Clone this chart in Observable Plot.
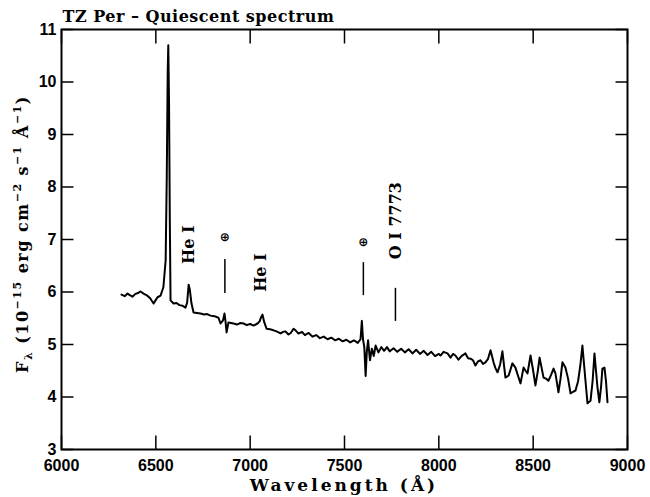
<!DOCTYPE html>
<html><head><meta charset="utf-8">
<script src="https://cdn.jsdelivr.net/npm/d3@7"></script>
<script src="https://cdn.jsdelivr.net/npm/@observablehq/plot@0.6"></script>
<style>body{margin:0;background:#fff}</style>
</head><body><div id="chart"></div>
<script>
const wavelength = [6318,6335,6350,6362,6376,6390,6405,6419,6435,6455,6470,6488,6500,6509,6525,6540,6552,6558,6563,6566,6570,6574,6578,6594,6610,6625,6641,6657,6666,6674,6680,6689,6700,6718,6737,6755,6772,6790,6810,6832,6843,6856,6864,6870,6875,6885,6898,6912,6930,6948,6965,6982,7000,7018,7039,7050,7058,7065,7075,7087,7105,7124,7140,7161,7175,7187,7203,7215,7230,7243,7256,7275,7290,7310,7330,7350,7370,7390,7410,7430,7450,7470,7490,7510,7530,7550,7570,7585,7592,7598,7605,7612,7618,7625,7635,7645,7655,7665,7680,7695,7710,7725,7740,7760,7780,7800,7820,7840,7860,7880,7900,7920,7940,7960,7980,8000,8009,8025,8046,8062,8075,8088,8104,8120,8141,8155,8168,8181,8194,8208,8221,8234,8247,8260,8274,8290,8300,8311,8325,8337,8353,8370,8390,8406,8420,8433,8449,8460,8470,8486,8500,8512,8524,8534,8545,8555,8568,8581,8595,8608,8618,8634,8645,8655,8671,8685,8698,8712,8724,8738,8750,8761,8775,8788,8804,8815,8825,8833,8841,8851,8860,8867,8878,8886,8894];
const flux = [5.95,5.92,5.97,5.94,5.91,5.96,5.98,6.01,5.97,5.93,5.88,5.78,5.85,5.90,5.93,6.09,6.6,8.2,10.2,10.7,9.6,7.4,5.84,5.78,5.79,5.75,5.74,5.70,5.80,6.14,6.05,5.78,5.61,5.60,5.59,5.57,5.58,5.55,5.54,5.51,5.40,5.46,5.59,5.42,5.23,5.42,5.41,5.40,5.38,5.41,5.40,5.37,5.39,5.36,5.40,5.44,5.52,5.57,5.42,5.30,5.29,5.27,5.25,5.21,5.24,5.25,5.19,5.22,5.30,5.26,5.21,5.24,5.18,5.22,5.15,5.18,5.12,5.15,5.10,5.13,5.08,5.11,5.06,5.09,5.04,5.08,5.03,5.10,5.45,5.10,4.95,4.40,4.85,5.08,4.70,4.92,4.78,4.98,4.85,4.95,4.88,4.95,4.87,4.93,4.86,4.92,4.85,4.91,4.83,4.90,4.82,4.88,4.80,4.86,4.78,4.82,4.79,4.86,4.83,4.75,4.82,4.79,4.71,4.78,4.83,4.74,4.73,4.70,4.60,4.68,4.70,4.63,4.66,4.72,4.89,4.66,4.55,4.47,4.62,4.87,4.37,4.41,4.64,4.56,4.40,4.26,4.56,4.50,4.45,4.79,4.50,4.22,4.48,4.75,4.55,4.37,4.35,4.31,4.42,4.54,4.45,4.09,4.35,4.66,4.56,4.35,4.07,4.10,4.12,4.30,4.60,4.98,4.40,3.88,3.93,4.30,4.83,4.50,4.18,3.90,4.20,4.54,4.56,4.30,3.90];
const xTicks = [6000,6500,7000,7500,8000,8500,9000];
const yTicks = [3,4,5,6,7,8,9,10,11];
const labelText = ["He I","He I","O I 7773"];
const labelX = [6675,7058,7770];
const labelY = [6.90,6.37,7.36];
const earthX = [6866,7600];
const earthY = [7.04,6.94];
const markX = [6866,7600,7770];
const markY1 = [5.97,5.93,5.44];
const markY2 = [6.62,6.56,6.07];
const title = "TZ Per – Quiescent spectrum";

const spectrum = wavelength.map((w,i)=>({w, f: flux[i]}));
const labels = labelText.map((t,i)=>({t, x: labelX[i], y: labelY[i]}));
const earths = earthX.map((x,i)=>({x, y: earthY[i]}));
const marksIds = markX.map((x,i)=>({x, y1: markY1[i], y2: markY2[i]}));

const serif = "'DejaVu Serif', serif";
const sans = "'Liberation Sans', Arial, sans-serif";
const xMin = 6000, xMax = 9000, yMin = 3, yMax = 11;
const W = 650, H = 497, mL = 61, mR = 23, mT = 29, mB = 48;
// tick lengths (14px vertical, 12px horizontal) expressed in data units
const tyLen = 14 * (yMax - yMin) / (H - mT - mB);
const txLen = 12 * (xMax - xMin) / (W - mL - mR);
const tickSegs = [
  ...xTicks.map(x => ({x1: x, x2: x, y1: yMin, y2: yMin + tyLen})),
  ...xTicks.map(x => ({x1: x, x2: x, y1: yMax - tyLen, y2: yMax})),
  ...yTicks.map(y => ({x1: xMin, x2: xMin + txLen, y1: y, y2: y})),
  ...yTicks.map(y => ({x1: xMax - txLen, x2: xMax, y1: y, y2: y}))
];

const chart = Plot.plot({
  width: W, height: H,
  marginLeft: mL, marginRight: mR, marginTop: mT, marginBottom: mB,
  style: {fontFamily: sans, fontSize: "16px", background: "#fff", color: "#000"},
  x: {domain: [xMin, xMax]},
  y: {domain: [yMin, yMax]},
  marks: [
    Plot.axisX(xTicks, {anchor: "bottom", tickSize: 0, tickPadding: 10, fontWeight: "bold", label: null, tickFormat: d => String(d)}),
    Plot.axisY(yTicks, {anchor: "left", tickSize: 0, tickPadding: 5, fontWeight: "bold", label: null, tickFormat: d => String(d)}),
    Plot.link(tickSegs, {x1: "x1", y1: "y1", x2: "x2", y2: "y2", stroke: "#000", strokeWidth: 1.5}),
    Plot.frame({stroke: "#000", strokeWidth: 2}),
    Plot.line(spectrum, {x: "w", y: "f", stroke: "#000", strokeWidth: 2, strokeLinejoin: "round"}),
    Plot.ruleX(marksIds, {x: "x", y1: "y1", y2: "y2", stroke: "#000", strokeWidth: 1.5}),
    Plot.text(labels, {x: "x", y: "y", text: "t", rotate: -90, fontFamily: serif, fontWeight: "bold", fontSize: 16, fill: "#000"}),
    Plot.text(earths, {x: "x", y: "y", text: () => "⊕", fontFamily: "'DejaVu Sans', sans-serif", fontWeight: "bold", fontSize: 12, fill: "#000"}),
    Plot.text([title], {frameAnchor: "top-left", text: d => d, textAnchor: "start", lineAnchor: "bottom", dy: -8, dx: 1, fontFamily: serif, fontWeight: "bold", fontSize: 16, fill: "#000"})
  ]
});
document.getElementById("chart").appendChild(chart);

const svg = d3.select(chart);
svg.selectAll("text").filter(function(){ return this.textContent === title; }).attr("letter-spacing", 0.5);
const yl = svg.append("text")
  .attr("transform", "translate(28,234) rotate(-90)")
  .attr("text-anchor", "middle")
  .attr("letter-spacing", 1.5)
  .attr("font-family", serif).attr("font-weight", "bold").attr("font-size", 16).attr("fill", "#000");
const parts = [["F",0],["λ",1],[" (10",-1],["−15",2],[" erg cm",-2],["−2",2],[" s",-2],["−1",2],[" Å",-2],["−1",2],[")",-2]];
let shift = 0;
for (const [t, k] of parts) {
  const ts = yl.append("tspan").text(t);
  let target = k === 1 ? 4 : k === 2 ? -7 : 0;
  ts.attr("dy", target - shift);
  shift = target;
  if (k === 1 || k === 2) ts.attr("font-size", 11);
}
svg.append("text")
  .attr("x", 344).attr("y", 491)
  .attr("text-anchor", "middle")
  .attr("letter-spacing", 3)
  .attr("font-family", serif).attr("font-weight", "bold").attr("font-size", 17).attr("fill", "#000")
  .text("Wavelength (Å)");
</script>
</body></html>
